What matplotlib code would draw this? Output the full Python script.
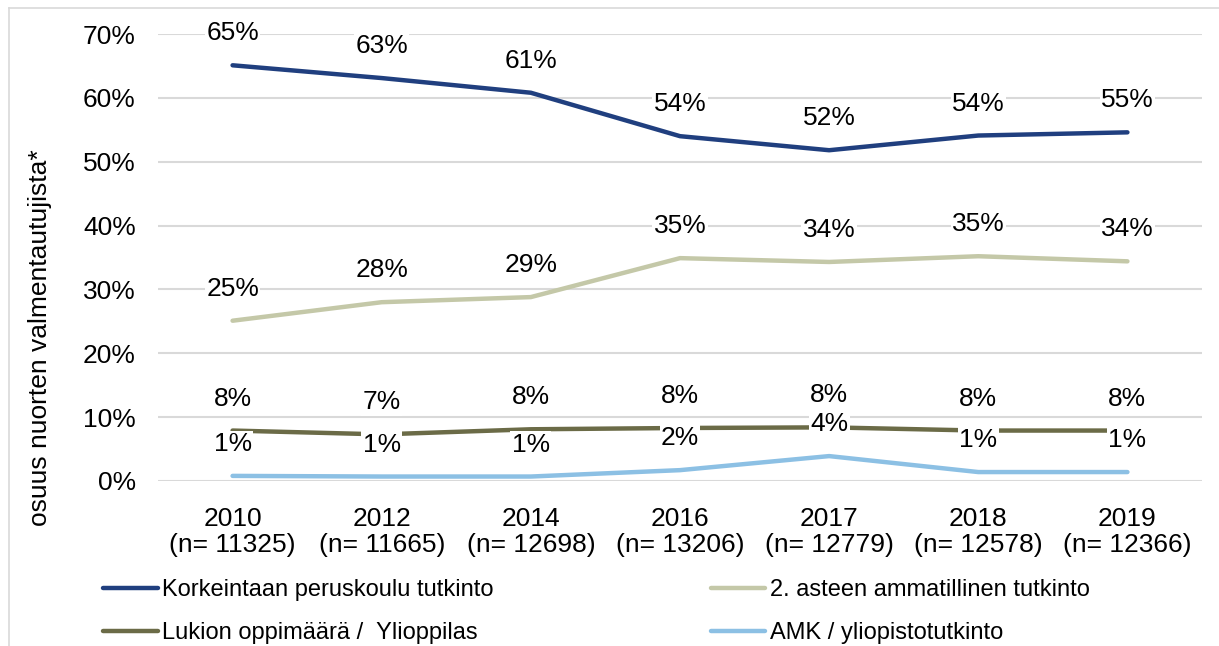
import matplotlib.pyplot as plt
from matplotlib.lines import Line2D

plt.rcParams['font.family'] = ['Liberation Sans', 'DejaVu Sans']

years = ["2010", "2012", "2014", "2016", "2017", "2018", "2019"]
n_counts = [11325, 11665, 12698, 13206, 12779, 12578, 12366]

peruskoulu = [65.1, 63.1, 60.8, 54.0, 51.8, 54.1, 54.6]
ammatillinen = [25.1, 28.0, 28.8, 34.9, 34.3, 35.2, 34.4]
lukio = [7.9, 7.3, 8.1, 8.3, 8.4, 7.9, 7.9]
amk = [0.8, 0.7, 0.7, 1.7, 3.9, 1.4, 1.4]

series = [
    ("Korkeintaan peruskoulu tutkinto", peruskoulu, "#203f7f"),
    ("2. asteen ammatillinen tutkinto", ammatillinen, "#c4c8a8"),
    ("Lukion oppimäärä /  Ylioppilas", lukio, "#6b6b47"),
    ("AMK / yliopistotutkinto", amk, "#8cc0e4"),
]

fs = 19

fig = plt.figure(figsize=(12.19, 6.46), dpi=100)
ax = fig.add_axes([158 / 1219, 1 - 481 / 646, (1202 - 158) / 1219, (481 - 34) / 646])

x = list(range(len(years)))
handles = {}
for name, vals, col in series:
    h, = ax.plot(x, vals, color=col, lw=3.2, solid_capstyle="round", zorder=3)
    handles[name] = h
    for xi, v in zip(x, vals):
        ax.annotate(f"{v:.0f}%", (xi, v), xytext=(0, 23), textcoords="offset points",
                    ha="center", va="center", fontsize=fs, zorder=4,
                    bbox=dict(fc="white", ec="none", pad=1))

ax.set_xlim(-0.5, len(years) - 0.5)
ax.set_ylim(0, 70)
ax.set_yticks(range(0, 71, 10))
ax.set_yticklabels([f"{t}%" for t in range(0, 71, 10)], fontsize=fs)
ax.set_xticks(x)
ax.set_xticklabels([f"{y}\n(n= {n})" for y, n in zip(years, n_counts)], fontsize=fs, linespacing=1.1)
ax.tick_params(length=0)
ax.tick_params(axis="y", pad=16)
ax.tick_params(axis="x", pad=19)
ax.grid(axis="y", color="#d9d9d9", lw=1.5, zorder=0)
ax.set_axisbelow(True)
for s in ax.spines.values():
    s.set_visible(False)

fig.text(40 / 1219, 1 - 338 / 646, "osuus nuorten valmentautujista*", rotation=90,
         ha="center", va="center", fontsize=fs)

order = ["Korkeintaan peruskoulu tutkinto", "Lukion oppimäärä /  Ylioppilas",
         "2. asteen ammatillinen tutkinto", "AMK / yliopistotutkinto"]
fig.legend([handles[k] for k in order], order, ncol=2, loc="upper left",
           bbox_to_anchor=(82 / 1219, 1 - 558 / 646), frameon=False,
           prop={"family": ["Liberation Sans Narrow", "Liberation Sans"], "size": 17},
           handlelength=2.3, handletextpad=0.2, columnspacing=9.2, labelspacing=0.9)

# light frame around the chart area
fig.add_artist(Line2D([9 / 1219, 1], [1 - 8 / 646] * 2, color="#d9d9d9", lw=1.2, transform=fig.transFigure))
fig.add_artist(Line2D([9 / 1219] * 2, [0, 1 - 8 / 646], color="#d9d9d9", lw=1.2, transform=fig.transFigure))

fig.savefig("out.png", dpi=100)
